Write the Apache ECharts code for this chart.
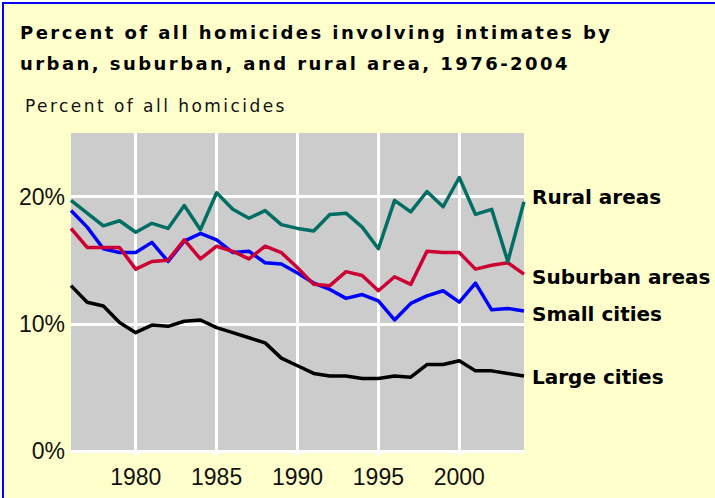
<!DOCTYPE html>
<html>
<head>
<meta charset="utf-8">
<script src="https://cdn.jsdelivr.net/npm/echarts@6/dist/echarts.min.js"></script>
<style>
html,body{margin:0;padding:0;background:#fff;}
#chart{width:715px;height:498px;}
</style>
</head>
<body>
<div id="chart"></div>
<script>
const years = ['1976','1977','1978','1979','1980','1981','1982','1983','1984','1985','1986','1987','1988','1989','1990','1991','1992','1993','1994','1995','1996','1997','1998','1999','2000','2001','2002','2003','2004'];
const rural = [19.7,18.7,17.7,18.1,17.2,17.9,17.5,19.3, 17.4,20.3,19.0,18.3,18.9,17.8,17.5, 17.3,18.6,18.7,17.6,15.9,19.7,18.8, 20.4,19.2,21.5,18.6,19.0,14.9,19.6];
const suburban = [17.5,16.0,16.0,16.0,14.3,14.9,15.0,16.6, 15.1,16.1,15.7,15.1,16.1,15.6,14.4, 13.1,13.0,14.1,13.8,12.6,13.7,13.1, 15.7,15.6,15.6,14.3,14.6,14.8,13.9];
const smallCities = [18.9,17.6,15.9,15.6,15.6,16.4,14.9,16.5, 17.1,16.6,15.6,15.7,14.8,14.7,14.0, 13.2,12.7,12.0,12.3,11.8,10.3,11.6, 12.2,12.6,11.7,13.2,11.1,11.2,11.0];
const largeCities = [13.0,11.7,11.4,10.1,9.3,9.9,9.8,10.2, 10.3,9.7,9.3,8.9,8.5,7.3,6.7, 6.1,5.9,5.9,5.7,5.7,5.9,5.8, 6.8,6.8,7.1,6.3,6.3,6.1,5.9];
const seriesNames = ['Rural areas','Suburban areas','Small cities','Large cities'];
const titleText = 'Percent of all homicides involving intimates by\nurban, suburban, and rural area, 1976-2004';
const yAxisTitle = 'Percent of all homicides';

const chart = echarts.init(document.getElementById('chart'), null, {renderer: 'svg'});
const every5 = (i, v) => (+years[i]) % 5 === 0;

function mk(name, data, color, offY) {
  return {
    name: name, type: 'line', data: data, showSymbol: false, symbol: 'none',
    lineStyle: {color: color, width: 3.5, join: 'round'},
    itemStyle: {color: color},
    animation: false,
    endLabel: {
      show: true, formatter: name, distance: 8, offset: [0, offY],
      fontFamily: 'DejaVu Sans', fontWeight: 'bold', fontSize: 20, color: '#000'
    }
  };
}

chart.setOption({
  backgroundColor: '#FFFFCC',
  animation: false,
  title: [
    {text: titleText, left: 20, top: 17, padding: 0,
     textStyle: {fontFamily: 'DejaVu Sans', fontWeight: 'bold', fontSize: 18, lineHeight: 31, color: '#000'}},
    {text: yAxisTitle, left: 25, top: 95, padding: 0,
     textStyle: {fontFamily: 'DejaVu Sans', fontWeight: 'normal', fontSize: 17, lineHeight: 22, color: '#111'}}
  ],
  grid: {left: 71, top: 133, right: 191, bottom: 47, show: true, backgroundColor: '#CCCCCC', borderWidth: 0, containLabel: false},
  xAxis: {
    type: 'category', data: years, boundaryGap: false,
    axisLine: {show: true, lineStyle: {color: '#FFFFFF', width: 3}},
    axisTick: {show: true, interval: every5, length: 5, lineStyle: {color: '#FFFFFF', width: 3}},
    axisLabel: {interval: every5, margin: 14, fontFamily: 'Liberation Sans', fontSize: 23, color: '#111'},
    splitLine: {show: true, interval: every5, lineStyle: {color: '#FFFFFF', width: 3}}
  },
  yAxis: {
    type: 'value', min: 0, max: 25, interval: 10,
    axisLine: {show: false}, axisTick: {show: false},
    axisLabel: {formatter: '{value}%', showMaxLabel: false, margin: 6, fontFamily: 'Liberation Sans', fontSize: 23, color: '#111'},
    splitLine: {show: true, showMaxLine: false, lineStyle: {color: '#FFFFFF', width: 3}}
  },
  graphic: [
    {type: 'rect', shape: {x: 68, y: 129, width: 460, height: 4}, style: {fill: '#FFFFCC'}, z: 100},
    {type: 'rect', shape: {x: 2, y: 2, width: 713, height: 2}, style: {fill: '#0000FF'}, z: 101},
    {type: 'rect', shape: {x: 2, y: 2, width: 2, height: 496}, style: {fill: '#0000FF'}, z: 101},
    {type: 'rect', shape: {x: 0, y: 0, width: 715, height: 2}, style: {fill: '#FFFFFF'}, z: 101},
    {type: 'rect', shape: {x: 0, y: 0, width: 2, height: 498}, style: {fill: '#FFFFFF'}, z: 101}
  ],
  series: [
    mk(seriesNames[3], largeCities, '#000000', 1),
    mk(seriesNames[2], smallCities, '#0000FF', 3),
    mk(seriesNames[1], suburban, '#CC0033', 3),
    mk(seriesNames[0], rural, '#006E64', -5)
  ]
});

function spaceOut() {
  document.querySelectorAll('#chart svg text').forEach(function (t) {
    const s = t.textContent || '';
    if (s.indexOf('Percent of all homicides') === 0 || s.indexOf('urban, suburban') === 0) {
      t.style.letterSpacing = '2.45px';
    }
  });
}
chart.getZr().flush();
spaceOut();
chart.on('finished', spaceOut);
</script>
</body>
</html>
